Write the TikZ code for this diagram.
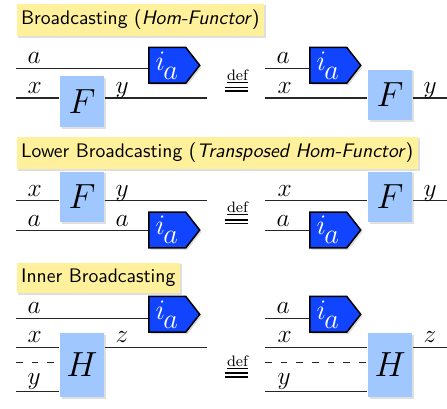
\documentclass[tikz,border=0pt]{standalone}
\usepackage{fix-cm}
\usepackage{amsmath}
\usetikzlibrary{shapes.symbols, shadows}

\newcommand{\inja}{$i_{\lower2.6pt\hbox{$\textstyle\mkern-1mu a$}}$}

\begin{document}
\begin{tikzpicture}[x=0.53pt, y=-0.53pt, line width=0.6pt,
  wire/.style={draw=black!85},
  ghost/.style={wire, dash pattern=on 3.5pt off 4.8pt},
  softshadow/.style={drop shadow={shadow xshift=1pt, shadow yshift=-1pt, opacity=0.25}},
  titlebox/.style={fill=titleyellow, anchor=north west, inner xsep=2.4pt,
    minimum height=16pt, font=\sffamily\fontsize{10.4}{12}\selectfont, softshadow},
  morph/.style={fill=boxblue, minimum width=23.3pt, minimum height=27pt,
    inner sep=0pt, font=\fontsize{18.5}{20}\selectfont, softshadow},
  inj/.style={signal, signal to=east, signal pointer angle=104, draw=black,
    line width=0.8pt, fill=injblue, text=white, anchor=west, inner sep=0pt,
    minimum width=27pt, minimum height=19pt, font=\fontsize{15}{17}\selectfont, softshadow},
  lbl/.style={anchor=base west, inner sep=0pt, font=\fontsize{13.5}{15}\selectfont},
  deftxt/.style={inner sep=0pt, font=\fontsize{8}{9}\selectfont},
  eqbar/.style={double, double distance=1.1pt, line width=0.9pt}]
  % colours
  \definecolor{titleyellow}{RGB}{255,240,155}
  \definecolor{boxblue}{RGB}{160,200,255}
  \definecolor{injblue}{RGB}{17,68,255}

  \useasboundingbox (0,0) rectangle (447,408);

  % --- Broadcasting ---
  \node[titlebox] (t1) at (16,3) {Broadcasting (\textit{Hom-Functor})};

  % left side
  \coordinate (a1) at (16,68.3);
  \coordinate (x1) at (16,98);
  \coordinate (x1e) at (207,98);
  \node[morph] (F1) at (82,101.5) {$F$};
  \node[inj] (ia1) at (148,65.3) {\inja};
  \draw[wire] (a1) -- (ia1.west |- a1);
  \draw[wire] (x1) -- (F1.west |- x1);
  \draw[wire] (F1.east |- x1) -- (x1e);
  \node[lbl] (la1) at (27,64) {$a$};
  \node[lbl] (lx1) at (27,94) {$x$};
  \node[lbl] (ly1) at (115,94) {$y$};

  % definition sign
  \node[deftxt] (d1) at (237.5,76.5) {\underline{def}};
  \draw[eqbar] (225,89.3) -- (248,89.3);

  % right side
  \coordinate (a2) at (265,68.3);
  \coordinate (x2) at (265,98);
  \coordinate (x2e) at (447,98);
  \node[inj] (ia2) at (309,65.3) {\inja};
  \node[morph] (F2) at (390,95) {$F$};
  \draw[wire] (a2) -- (ia2.west |- a2);
  \draw[wire] (x2) -- (F2.west |- x2);
  \draw[wire] (F2.east |- x2) -- (x2e);
  \node[lbl] (la2) at (276,64) {$a$};
  \node[lbl] (lx2) at (277,94) {$x$};
  \node[lbl] (ly2) at (423,94) {$y$};

  % --- Lower Broadcasting ---
  \node[titlebox] (t2) at (16,136) {Lower Broadcasting (\textit{Transposed Hom-Functor})};

  % left side
  \coordinate (x3) at (16,200.7);
  \coordinate (x3e) at (207,200.7);
  \coordinate (a3) at (16,230.7);
  \node[morph] (F3) at (82,197) {$F$};
  \node[inj] (ia3) at (148,230) {\inja};
  \draw[wire] (x3) -- (F3.west |- x3);
  \draw[wire] (F3.east |- x3) -- (x3e);
  \draw[wire] (a3) -- (ia3.west |- a3);
  \node[lbl] (lx3) at (27,196.4) {$x$};
  \node[lbl] (ly3) at (115,196.4) {$y$};
  \node[lbl] (la3) at (27,226.4) {$a$};
  \node[lbl] (lb3) at (115,226.4) {$a$};

  % definition sign
  \node[deftxt] (d2) at (237.5,208.5) {\underline{def}};
  \draw[eqbar] (225,221.7) -- (248,221.7);

  % right side
  \coordinate (x4) at (265,200.7);
  \coordinate (x4e) at (447,200.7);
  \coordinate (a4) at (265,230.7);
  \node[morph] (F4) at (390,197) {$F$};
  \node[inj] (ia4) at (309,230) {\inja};
  \draw[wire] (x4) -- (F4.west |- x4);
  \draw[wire] (F4.east |- x4) -- (x4e);
  \draw[wire] (a4) -- (ia4.west |- a4);
  \node[lbl] (lx4) at (277,196.4) {$x$};
  \node[lbl] (la4) at (276,226.4) {$a$};
  \node[lbl] (ly4) at (423,196.4) {$y$};

  % --- Inner Broadcasting ---
  \node[titlebox] (t3) at (16,262) {Inner Broadcasting};

  % left side
  \coordinate (a5) at (16,318.3);
  \coordinate (x5) at (16,347.3);
  \coordinate (x5e) at (207,347.3);
  \coordinate (g5) at (16,362.3);
  \coordinate (y5) at (16,391.7);
  \node[inj] (ia5) at (148,314.3) {\inja};
  \node[morph, minimum height=34pt] (H1) at (82,365) {$H$};
  \draw[wire] (a5) -- (ia5.west |- a5);
  \draw[wire] (x5) -- (H1.west |- x5);
  \draw[wire] (H1.east |- x5) -- (x5e);
  \draw[ghost] (g5) -- (H1.west |- g5);
  \draw[wire] (y5) -- (H1.west |- y5);
  \node[lbl] (la5) at (27,313.5) {$a$};
  \node[lbl] (lx5) at (27,342.5) {$x$};
  \node[lbl] (lz5) at (115,342.5) {$z$};
  \node[lbl] (ly5) at (27,384) {$y$};

  % definition sign
  \node[deftxt] (d3) at (237.5,362.5) {\underline{def}};
  \draw[eqbar] (225,375) -- (248,375);

  % right side
  \coordinate (a6) at (265,318.3);
  \coordinate (x6) at (265,347.3);
  \coordinate (x6e) at (447,347.3);
  \coordinate (g6) at (265,362.3);
  \coordinate (y6) at (265,391.7);
  \node[inj] (ia6) at (309,314.3) {\inja};
  \node[morph, minimum height=34pt] (H2) at (390,365) {$H$};
  \draw[wire] (a6) -- (ia6.west |- a6);
  \draw[wire] (x6) -- (H2.west |- x6);
  \draw[wire] (H2.east |- x6) -- (x6e);
  \draw[ghost] (g6) -- (H2.west |- g6);
  \draw[wire] (y6) -- (H2.west |- y6);
  \node[lbl] (la6) at (276,313.5) {$a$};
  \node[lbl] (lx6) at (277,342.5) {$x$};
  \node[lbl] (lz6) at (423,342.5) {$z$};
  \node[lbl] (ly6) at (277,384) {$y$};
\end{tikzpicture}
\end{document}
